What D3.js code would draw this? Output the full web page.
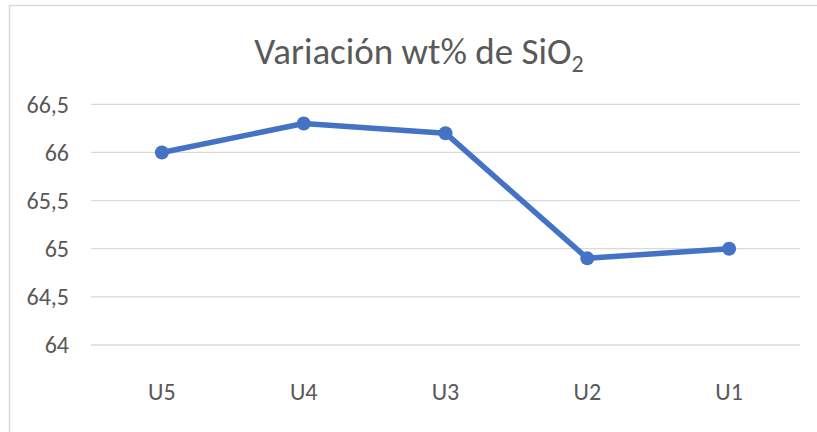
<!DOCTYPE html>
<html>
<head>
<meta charset="utf-8">
<script src="https://cdn.jsdelivr.net/npm/d3@7"></script>
<style>
html,body{margin:0;padding:0;background:#fff;overflow:hidden;}
svg{display:block;}
</style>
</head>
<body>
<svg id="chart" width="817" height="432"></svg>
<script>
const categories = ["U5", "U4", "U3", "U2", "U1"];
const sio2Values = [66.0, 66.3, 66.2, 64.9, 65.0];
const yTicks = [64, 64.5, 65, 65.5, 66, 66.5];
const titleMain = "Variación wt% de SiO";
const titleSub = "2";

const W = 817, H = 432;
const svg = d3.select("#chart");
const font = "Carlito, Calibri, 'Open Sans', sans-serif";
const textColor = "#595959";

// chart area border
svg.append("rect")
  .attr("x", 9.5).attr("y", 5.5)
  .attr("width", 900).attr("height", 500)
  .attr("fill", "#fff").attr("stroke", "#d9d9d9").attr("stroke-width", 1.5);

const plot = {left: 91, right: 800, top: 104.3, bottom: 345};

const x = d3.scaleBand().domain(categories).range([plot.left, plot.right]);
const y = d3.scaleLinear().domain([64, 66.5]).range([plot.bottom, plot.top]);

// gridlines
svg.append("g").selectAll("line").data(yTicks).join("line")
  .attr("x1", plot.left).attr("x2", plot.right)
  .attr("y1", d => y(d)).attr("y2", d => y(d))
  .attr("stroke", "#d9d9d9").attr("stroke-width", 1.3);

// y axis labels
const fmt = d => String(d).replace(".", ",");
const yAxis = d3.axisLeft(y).tickValues(yTicks).tickFormat(fmt).tickSize(0).tickPadding(0);
const gy = svg.append("g").attr("transform", `translate(69,0)`).call(yAxis);
gy.select(".domain").remove();
gy.selectAll("text").attr("font-family", font).attr("font-size", 24).attr("fill", textColor).attr("dy", "0.33em");

// x axis labels
const xAxis = d3.axisBottom(x).tickSize(0).tickPadding(0);
const gx = svg.append("g").attr("transform", `translate(0,392)`).call(xAxis);
gx.select(".domain").remove();
gx.selectAll("text").attr("font-family", font).attr("font-size", 24).attr("fill", textColor).attr("dy", "0.33em");

// line
const pts = categories.map((c, i) => [x(c) + x.bandwidth() / 2, y(sio2Values[i])]);
svg.append("path")
  .attr("d", d3.line()(pts))
  .attr("fill", "none").attr("stroke", "#4472C4").attr("stroke-width", 5.5)
  .attr("stroke-linejoin", "round").attr("stroke-linecap", "round");
svg.append("g").selectAll("circle").data(pts).join("circle")
  .attr("cx", d => d[0]).attr("cy", d => d[1]).attr("r", 7)
  .attr("fill", "#4472C4");

// title
const t = svg.append("text")
  .attr("x", 419).attr("y", 64)
  .attr("text-anchor", "middle")
  .attr("font-family", font).attr("font-size", 37).attr("fill", textColor);
t.append("tspan").text(titleMain);
t.append("tspan").text(titleSub).attr("font-size", 24).attr("dy", 8);
</script>
</body>
</html>
